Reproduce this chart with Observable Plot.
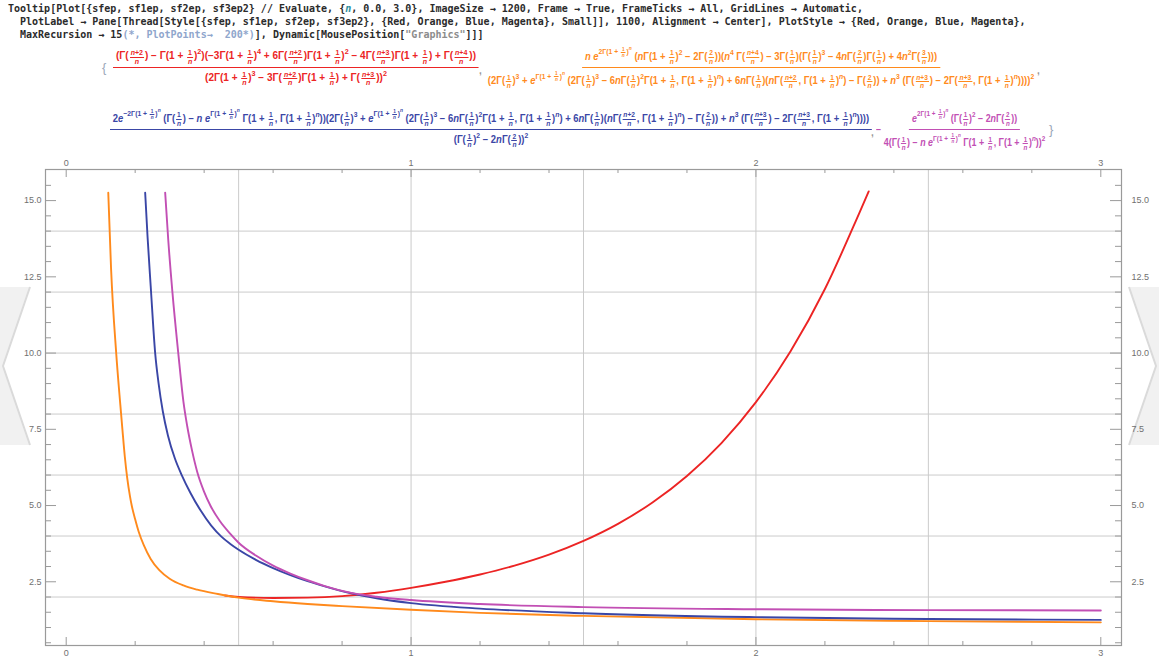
<!DOCTYPE html>
<html>
<head>
<meta charset="utf-8">
<script src="https://cdn.jsdelivr.net/npm/d3@7"></script>
<script src="https://cdn.jsdelivr.net/npm/@observablehq/plot@0.6"></script>
<style>
  html, body { margin: 0; padding: 0; background: #fff; }
  body { width: 1159px; height: 659px; overflow: hidden; position: relative; font-family: "Liberation Sans", Arial, sans-serif; }
  #code { position: absolute; left: 8px; top: 2px; font: bold 10px/13px "DejaVu Sans Mono", monospace; color: #2b2b2b; }
  #code .seg { position: absolute; white-space: pre; }
  #code .v { color: #2f8f9f; font-style: italic; }
  #code .c { color: #8fa6cc; }
  #code .s { color: #8c8c8c; }
  .ex { position: absolute; left: 0; top: 0; white-space: nowrap; transform-origin: 0 0;
        font: bold 10px/1.2 "Liberation Sans", Arial, sans-serif; display: block; }
  .fr { display: inline-flex; flex-direction: column; align-items: center; vertical-align: middle; }
  .fr > .nu { display: block; text-align: center; border-bottom: 1px solid currentColor; padding: 0 3px 2px; }
  .fr > .de { display: block; text-align: center; padding: 3px 3px 0; }
  .sf { display: inline-flex; flex-direction: column; align-items: center; vertical-align: middle; font-size: 0.7em; line-height: 1.05; margin: 0 1px; }
  .sf > span:first-child { border-bottom: 0.8px solid currentColor; padding: 0 1px; }
  sup { font-size: 72%; line-height: 0; vertical-align: 0.75em; }
  .br { color: #9aa6b8; font-weight: normal; font-size: 13px; }
  .sep { color: #999; }
  #chart { position: absolute; left: 0; top: 150px; z-index: 1; }
  #edge { position: absolute; left: 0; top: 0; z-index: 0; }
</style>
</head>
<body>
<svg id="edge" width="1159" height="659">
  <path d="M30,287 L3,366 L30,445 L0,445 L0,287 Z" fill="#f1f1f1" stroke="none"/>
  <path d="M30,287 L3,366 L30,445" fill="none" stroke="#dadada" stroke-width="2"/>
  <path d="M1129,287 L1156,366 L1129,445 L1159,445 L1159,287 Z" fill="#f1f1f1" stroke="none"/>
  <path d="M1129,287 L1156,366 L1129,445" fill="none" stroke="#dadada" stroke-width="2"/>
</svg>
<div id="code"></div>
<div id="label"></div>
<div id="chart"></div>
<script>
// ---- series: n on the horizontal axis, value of each statistic on the vertical ----
const nRed    = [0.46, 0.5, 0.6, 0.7, 0.8, 0.9, 1.0, 1.1, 1.2, 1.3, 1.4, 1.5, 1.6, 1.7, 1.8, 1.9, 2.0, 2.1, 2.2, 2.3, 2.327];
const sfep    = [2.05, 2.0, 1.97, 1.98, 2.03, 2.14, 2.3, 2.5, 2.74, 3.03, 3.39, 3.84, 4.4, 5.1, 5.97, 7.05, 8.39, 10.05, 12.1, 14.6, 15.3];

const nOrange = [0.122, 0.13, 0.145, 0.157, 0.163, 0.17, 0.177, 0.185, 0.19, 0.2, 0.21, 0.225, 0.245, 0.27, 0.3, 0.34, 0.38, 0.44, 0.5, 0.6, 0.7, 0.8, 1.0, 1.2, 1.5, 2.0, 2.5, 3.0];
const sf1ep   = [15.26, 12.8, 10.0, 8.3, 7.5, 6.6, 5.9, 5.3, 5.0, 4.55, 4.15, 3.7, 3.25, 2.88, 2.6, 2.38, 2.24, 2.1, 1.98, 1.86, 1.77, 1.7, 1.58, 1.48, 1.38, 1.27, 1.21, 1.17];

const nBlue   = [0.229, 0.236, 0.245, 0.258, 0.268, 0.28, 0.295, 0.315, 0.335, 0.36, 0.389, 0.42, 0.45, 0.476, 0.5, 0.55, 0.6, 0.65, 0.7, 0.75, 0.82, 0.9, 1.0, 1.2, 1.5, 2.0, 2.5, 3.0];
const sf2ep   = [15.26, 13.8, 12.2, 10.0, 9.0, 8.1, 7.3, 6.55, 6.0, 5.42, 4.85, 4.35, 3.98, 3.74, 3.55, 3.22, 2.95, 2.72, 2.52, 2.35, 2.14, 1.96, 1.8, 1.62, 1.47, 1.34, 1.28, 1.25];

const nMagenta = [0.287, 0.296, 0.308, 0.325, 0.34, 0.351, 0.365, 0.38, 0.4, 0.418, 0.445, 0.476, 0.5, 0.55, 0.6, 0.65, 0.7, 0.75, 0.82, 0.9, 1.0, 1.2, 1.5, 2.0, 2.5, 3.0];
const sf3ep2   = [15.26, 13.7, 12.0, 10.0, 8.4, 7.6, 6.8, 6.1, 5.45, 5.0, 4.5, 4.07, 3.78, 3.36, 3.03, 2.77, 2.55, 2.36, 2.15, 2.01, 1.9, 1.77, 1.67, 1.6, 1.57, 1.56];

// ---- frame ticks and grid ----
const xMajor = [0, 1, 2, 3];
const xMinor = [0.2, 0.4, 0.6, 0.8, 1.2, 1.4, 1.6, 1.8, 2.2, 2.4, 2.6, 2.8];
const yMajor = [2.5, 5, 7.5, 10, 12.5, 15];
const yMinor = [0.5, 1, 1.5, 2, 3, 3.5, 4, 4.5, 5.5, 6, 6.5, 7, 8, 8.5, 9, 9.5, 10.5, 11, 11.5, 12, 13, 13.5, 14, 14.5, 15.5];
const xGrid = [0.5, 1, 1.5, 2, 2.5];
const yGrid = [2, 4, 6, 8, 10, 12, 14];

const colors = { sfep: "#ec2424", sf1ep: "#ff8a1c", sf2ep: "#3a46a6", sf3ep2: "#c24fb4" };

const toRows = (xs, ys) => xs.map((x, i) => ({ n: x, v: ys[i] }));

// ---- input cell: three lines of code, each split into styled runs ----
const codeLines = [
  [["Tooltip[Plot[{sfep, sf1ep, sf2ep, sf3ep2} // Evaluate, {", ""], ["n", "v"],
   [", 0.0, 3.0}, ImageSize → 1200, Frame → True, FrameTicks → All, GridLines → Automatic,", ""]],
  [["  PlotLabel → Pane[Thread[Style[{sfep, sf1ep, sf2ep, sf3ep2}, {Red, Orange, Blue, Magenta}, Small]], 1100, Alignment → Center], PlotStyle → {Red, Orange, Blue, Magenta},", ""]],
  [["  MaxRecursion → 15", ""], ["(*, PlotPoints→  200*)", "c"], ["], Dynamic[MousePosition[", ""], ["\"Graphics\"", "s"], ["]]]", ""]]
];
const code = document.getElementById("code");
codeLines.forEach((line, row) => {
  let col = 0;
  for (const [text, cls] of line) {
    const seg = document.createElement("span");
    seg.className = "seg" + (cls ? " " + cls : "");
    seg.textContent = text;
    seg.style.left = col + "ch";
    seg.style.top = (row * 13) + "px";
    code.appendChild(seg);
    col += text.length;
  }
});

// ---- plot label: the four closed-form expressions ----
const N = "<i>n</i>";
const sf = (a, b) => `<span class="sf"><span>${a}</span><span>${b}</span></span>`;
const P = s => `(${s})`;
const G = s => `Γ${P(s)}`;
const pw = (b, e) => `${b}<sup>${e}</sup>`;
const one = `1 + ${sf("1", N)}`;
const g1 = G(one);                          // Γ(1 + 1/n)
const gq = k => G(sf(`${N}+${k}`, N));      // Γ((n+k)/n)
const gf = k => G(sf(k, N));                // Γ(k/n)
const gn = pw(g1, N);                       // Γ(1 + 1/n)^n
const ex = s => pw("<i>e</i>", s);
const frac = (a, b) => `<span class="fr"><span class="nu">${a}</span><span class="de">${b}</span></span>`;

const inner = "2" + pw(gf(1), 3) + " + " + ex(gn) + " " +
  P("2" + pw(gf(1), 3) + " − 6" + N + pw(gf(1), 2) + G(one + ", " + gn) +
    " + 6" + N + gf(1) + P(N + G(sf(N + "+2", N) + ", " + gn) + " − " + gf(2)) +
    " + " + pw(N, 3) + " " + P(gq(3) + " − 2" + G(sf(N + "+3", N) + ", " + gn)));

const redExpr = frac(
  P(gq(2) + " − " + pw(g1, 2)) + P("−3" + pw(g1, 4) + " + 6" + gq(2) + pw(g1, 2) + " − 4" + gq(3) + g1 + " + " + gq(4)),
  pw(P("2" + pw(g1, 3) + " − 3" + gq(2) + g1 + " + " + gq(3)), 2));

const orangeExpr = frac(
  N + " " + ex("2" + gn) + " " + P(N + pw(g1, 2) + " − 2" + gf(2)) +
    P(pw(N, 4) + " " + gq(4) + " − 3" + gf(1) + P(pw(gf(1), 3) + " − 4" + N + gf(2) + gf(1) + " + 4" + pw(N, 2) + gf(3))),
  pw(P(inner), 2));

const blueExpr = frac(
  "2" + ex("−2" + gn) + " " + P(gf(1) + " − " + N + " " + ex(gn) + " " + G(one + ", " + gn)) + P(inner),
  pw(P(pw(gf(1), 2) + " − 2" + N + gf(2)), 2));

const magentaExpr = "−" + frac(
  ex("2" + gn) + " " + P(pw(gf(1), 2) + " − 2" + N + gf(2)),
  "4" + pw(P(gf(1) + " − " + N + " " + ex(gn) + " " + G(one + ", " + gn)), 2));

// slot for each piece of the label pane: left edge, width, height of fraction bar
const pieces = [
  { html: '<span class="br">{</span>', left: 102, width: 0, bar: 68, color: "#9aa6b8" },
  { html: redExpr, left: 113, width: 366, bar: 68, color: colors.sfep },
  { html: '<span class="sep">,</span>', left: 479, width: 0, bar: 71, color: "#999" },
  { html: orangeExpr, left: 485, width: 552, bar: 68, color: colors.sf1ep },
  { html: '<span class="sep">,</span>', left: 1037, width: 0, bar: 71, color: "#999" },
  { html: blueExpr, left: 110, width: 762, bar: 130, color: colors.sf2ep },
  { html: '<span class="sep">,</span>', left: 871, width: 0, bar: 133, color: "#999" },
  { html: magentaExpr, left: 876, width: 172, bar: 130, color: colors.sf3ep2 },
  { html: '<span class="br">}</span>', left: 1049, width: 0, bar: 130, color: "#9aa6b8" }
];

const label = document.getElementById("label");
for (const p of pieces) {
  const el = document.createElement("div");
  el.className = "ex";
  el.style.color = p.color;
  el.innerHTML = p.html;
  label.appendChild(el);
  const box = el.getBoundingClientRect();
  const first = el.firstElementChild;
  const w = Math.max(box.width, first ? first.getBoundingClientRect().right - box.left : 0);
  const sx = p.width ? p.width / w : 1;
  const nu = el.querySelector(".nu");
  const barOffset = nu ? nu.getBoundingClientRect().bottom - box.top : box.height / 2;
  el.style.left = p.left + "px";
  el.style.top = (p.bar - barOffset) + "px";
  el.style.transform = `scaleX(${sx})`;
}

// ---- chart ----
const W = 1159, H = 509, mt = 19, mb = 14, ml = 45, mr = 38;
const fw = W - ml - mr, fh = H - mt - mb;
const tickStroke = "#9a9a9a";
const labelStyle = { fontSize: 9, fill: "#707070", label: null };

const series = [
  { rows: toRows(nRed, sfep), color: colors.sfep },
  { rows: toRows(nOrange, sf1ep), color: colors.sf1ep },
  { rows: toRows(nBlue, sf2ep), color: colors.sf2ep },
  { rows: toRows(nMagenta, sf3ep2), color: colors.sf3ep2 }
];

const chart = Plot.plot({
  width: W, height: H,
  marginTop: mt, marginBottom: mb, marginLeft: ml, marginRight: mr,
  style: { background: "transparent", fontFamily: "Liberation Sans, Arial, sans-serif" },
  x: { domain: [-0.06, 3.06] },
  y: { domain: [0.41, 16.02] },
  marks: [
    Plot.ruleX(xGrid, { stroke: "#cbcbcb", strokeWidth: 1 }),
    Plot.ruleY(yGrid, { stroke: "#cbcbcb", strokeWidth: 1 }),
    // inward frame ticks
    Plot.ruleX(xMajor, { stroke: tickStroke, insetTop: fh - 8 }),
    Plot.ruleX(xMajor, { stroke: tickStroke, insetBottom: fh - 8 }),
    Plot.ruleX(xMinor, { stroke: tickStroke, insetTop: fh - 4 }),
    Plot.ruleX(xMinor, { stroke: tickStroke, insetBottom: fh - 4 }),
    Plot.ruleY(yMajor, { stroke: tickStroke, insetRight: fw - 11 }),
    Plot.ruleY(yMajor, { stroke: tickStroke, insetLeft: fw - 11 }),
    Plot.ruleY(yMinor, { stroke: tickStroke, insetRight: fw - 6 }),
    Plot.ruleY(yMinor, { stroke: tickStroke, insetLeft: fw - 6 }),
    Plot.frame({ stroke: "#9a9a9a", strokeWidth: 1.2 }),
    ...series.map(s => Plot.line(s.rows, { x: "n", y: "v", stroke: s.color, strokeWidth: 1.9, curve: "monotone-x" })),
    Plot.axisX(xMajor, { anchor: "bottom", tickSize: 0, tickPadding: 4, tickFormat: d => String(d), ...labelStyle }),
    Plot.axisX(xMajor, { anchor: "top", tickSize: 0, tickPadding: 4, tickFormat: d => String(d), ...labelStyle }),
    Plot.axisY(yMajor, { anchor: "left", tickSize: 0, tickPadding: 4, tickFormat: d => d.toFixed(1), ...labelStyle }),
    Plot.axisY(yMajor, { anchor: "right", tickSize: 0, tickPadding: 10, tickFormat: d => d.toFixed(1), ...labelStyle })
  ]
});
document.getElementById("chart").appendChild(chart);
</script>
</body>
</html>
